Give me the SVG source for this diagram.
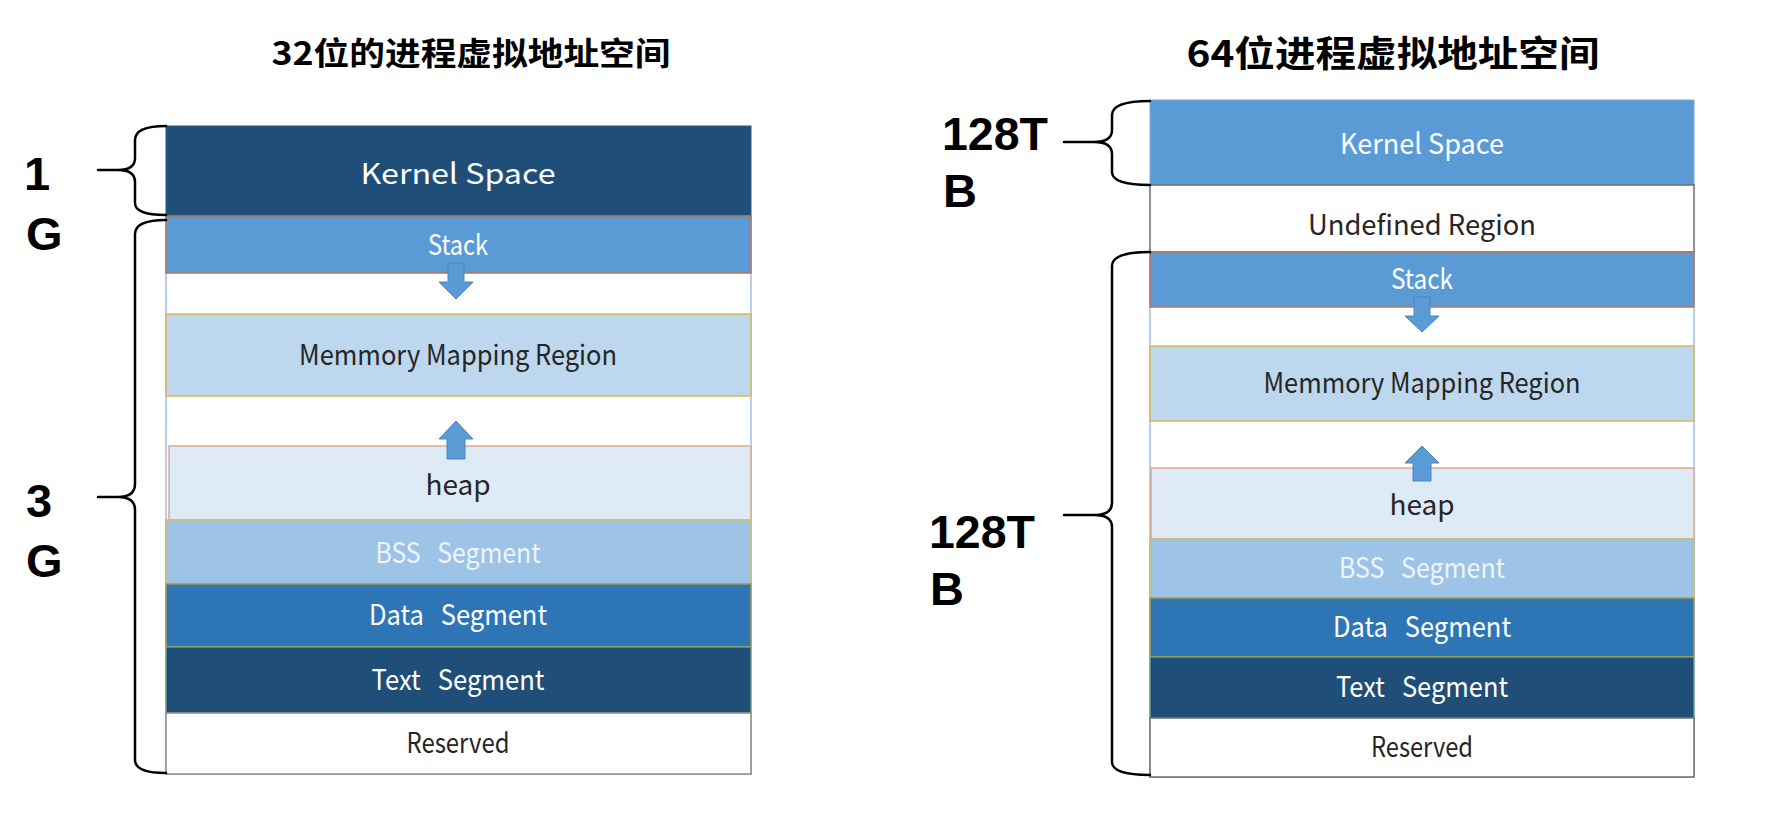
<svg xmlns="http://www.w3.org/2000/svg" width="1769" height="819" viewBox="0 0 1769 819">
<style>
.title{font-family:"Noto Sans CJK SC","Noto Sans",sans-serif;font-weight:700;fill:#000;text-anchor:middle}
.size{font-family:"Liberation Sans",Arial,sans-serif;font-weight:700;font-size:47px;fill:#000}
.lbl{font-family:"Noto Sans CJK SC","Noto Sans",sans-serif;font-size:28px;text-anchor:middle;white-space:pre}
.w{fill:#ffffff}
.d{fill:#262626}
.bss{fill:#eef4fb}
.brace{fill:none;stroke:#000;stroke-width:2.5;stroke-linejoin:round;stroke-linecap:round}
.arrow{fill:#5b9bd5;stroke:#4a86c0;stroke-width:1}
.col{fill:#ffffff;stroke:#9fbfe0;stroke-width:1.5}
</style>

<text class="title" x="471" y="65" font-size="32" textLength="399" lengthAdjust="spacingAndGlyphs">32位的进程虚拟地址空间</text>
<text class="title" x="1393" y="67" font-size="36" textLength="413" lengthAdjust="spacingAndGlyphs">64位进程虚拟地址空间</text>

<!-- Left column: 32-bit -->
<g id="left-column">
  <rect class="col" x="166" y="216" width="585" height="558"/>
  <g id="l-kernel">
    <rect x="166" y="126" width="585" height="90" fill="#1f4e79" stroke="#2a5a88" stroke-width="1"/>
    <text class="lbl w" x="458" y="184" font-size="34" textLength="195" lengthAdjust="spacingAndGlyphs">Kernel Space</text>
  </g>
  <g id="l-stack">
    <rect x="166" y="216" width="585" height="57" fill="#5b9bd5" stroke="#b8765a" stroke-width="1.5"/>
    <text class="lbl w" x="458" y="255" textLength="60" lengthAdjust="spacingAndGlyphs">Stack</text>
  </g>
  <g id="l-mmap">
    <rect x="166" y="314" width="585" height="82" fill="#bdd7ee" stroke="#d8b854" stroke-width="1.5"/>
    <text class="lbl d" x="458" y="365" textLength="318" lengthAdjust="spacingAndGlyphs">Memmory Mapping Region</text>
  </g>
  <g id="l-heap">
    <rect x="169" y="446" width="582" height="74" fill="#deebf7" stroke="#e2a888" stroke-width="1.5"/>
    <text class="lbl d" x="458" y="495">heap</text>
  </g>
  <g id="l-bss">
    <rect x="166" y="520" width="585" height="64" fill="#9dc3e6" stroke="#d0bc6a" stroke-width="1.5"/>
    <text class="lbl bss" x="458" y="563" xml:space="preserve" textLength="165" lengthAdjust="spacingAndGlyphs">BSS   Segment</text>
  </g>
  <g id="l-data">
    <rect x="166" y="584" width="585" height="63" fill="#2e75b6" stroke="#a89a44" stroke-width="1.5"/>
    <text class="lbl w" x="458" y="625" xml:space="preserve" textLength="178" lengthAdjust="spacingAndGlyphs">Data   Segment</text>
  </g>
  <g id="l-text">
    <rect x="166" y="647" width="585" height="66" fill="#1f4e79" stroke="#7fa87a" stroke-width="1.2"/>
    <text class="lbl w" x="458" y="690" xml:space="preserve" textLength="173" lengthAdjust="spacingAndGlyphs">Text   Segment</text>
  </g>
  <g id="l-reserved">
    <rect x="166" y="713" width="585" height="61" fill="#ffffff" stroke="#8c8c8c" stroke-width="1.5"/>
    <text class="lbl d" x="458" y="753" textLength="103" lengthAdjust="spacingAndGlyphs">Reserved</text>
  </g>
  <g id="l-size-1g">
    <text class="size" x="24" y="190">1</text>
    <text class="size" x="26" y="250">G</text>
  </g>
  <g id="l-size-3g">
    <text class="size" x="26" y="517">3</text>
    <text class="size" x="26" y="577">G</text>
  </g>
</g>

<!-- Right column: 64-bit -->
<g id="right-column">
  <rect class="col" x="1150" y="252" width="544" height="525"/>
  <g id="r-kernel">
    <rect x="1150" y="100" width="544" height="85" fill="#5b9bd5" stroke="#7fa9d6" stroke-width="1"/>
    <text class="lbl w" x="1422" y="154" font-size="32" textLength="164" lengthAdjust="spacingAndGlyphs">Kernel Space</text>
  </g>
  <g id="r-undefined">
    <rect x="1150" y="185" width="544" height="67" fill="#ffffff" stroke="#6b6b6b" stroke-width="1.5"/>
    <text class="lbl d" x="1422" y="235" textLength="228" lengthAdjust="spacingAndGlyphs">Undefined Region</text>
  </g>
  <g id="r-stack">
    <rect x="1150" y="252" width="544" height="55" fill="#5b9bd5" stroke="#b8765a" stroke-width="1.5"/>
    <text class="lbl w" x="1422" y="289" textLength="62" lengthAdjust="spacingAndGlyphs">Stack</text>
  </g>
  <g id="r-mmap">
    <rect x="1150" y="346" width="544" height="75" fill="#bdd7ee" stroke="#d8b854" stroke-width="1.5"/>
    <text class="lbl d" x="1422" y="393" textLength="317" lengthAdjust="spacingAndGlyphs">Memmory Mapping Region</text>
  </g>
  <g id="r-heap">
    <rect x="1151" y="468" width="543" height="71" fill="#deebf7" stroke="#e2a888" stroke-width="1.5"/>
    <text class="lbl d" x="1422" y="515">heap</text>
  </g>
  <g id="r-bss">
    <rect x="1150" y="539" width="544" height="59" fill="#9dc3e6" stroke="#d0bc6a" stroke-width="1.5"/>
    <text class="lbl bss" x="1422" y="578" xml:space="preserve" textLength="166" lengthAdjust="spacingAndGlyphs">BSS   Segment</text>
  </g>
  <g id="r-data">
    <rect x="1150" y="598" width="544" height="59" fill="#2e75b6" stroke="#a89a44" stroke-width="1.5"/>
    <text class="lbl w" x="1422" y="637" xml:space="preserve" textLength="178" lengthAdjust="spacingAndGlyphs">Data   Segment</text>
  </g>
  <g id="r-text">
    <rect x="1150" y="657" width="544" height="61" fill="#1f4e79" stroke="#7fa87a" stroke-width="1.2"/>
    <text class="lbl w" x="1422" y="697" xml:space="preserve" textLength="172" lengthAdjust="spacingAndGlyphs">Text   Segment</text>
  </g>
  <g id="r-reserved">
    <rect x="1150" y="718" width="544" height="59" fill="#ffffff" stroke="#6b6b6b" stroke-width="1.5"/>
    <text class="lbl d" x="1422" y="757" textLength="102" lengthAdjust="spacingAndGlyphs">Reserved</text>
  </g>
  <g id="r-size-kernel">
    <text class="size" x="942" y="150" textLength="106" lengthAdjust="spacingAndGlyphs">128T</text>
    <text class="size" x="943" y="207">B</text>
  </g>
  <g id="r-size-user">
    <text class="size" x="929" y="548" textLength="106" lengthAdjust="spacingAndGlyphs">128T</text>
    <text class="size" x="930" y="605">B</text>
  </g>
</g>

<!-- Connectors: braces and growth arrows -->
<g id="connectors">
  <path class="brace" d="M166,126 Q135,126 135,140 L135,158 Q135,170 118,170 L98,170 M118,170 Q135,170 135,182 L135,203 Q135,215 166,215"/>
  <path class="brace" d="M166,220 Q135,220 135,234 L135,484 Q135,497 118,497 L98,497 M118,497 Q135,497 135,510 L135,760 Q135,773 166,773"/>
  <path class="brace" d="M1150,101 Q1112,101 1112,115 L1112,130 Q1112,142 1094,142 L1064,142 M1094,142 Q1112,142 1112,154 L1112,172 Q1112,185 1150,185"/>
  <path class="brace" d="M1150,252 Q1112,252 1112,266 L1112,503 Q1112,515 1094,515 L1064,515 M1094,515 Q1112,515 1112,527 L1112,762 Q1112,775 1150,775"/>
  <polygon class="arrow" points="448,263 464,263 464,282 473,282 456,299 439,282 448,282"/>
  <polygon class="arrow" points="456,421 473,439 465,439 465,459 447,459 447,439 439,439"/>
  <polygon class="arrow" points="1414,297 1430,297 1430,316 1439,316 1422,332 1405,316 1414,316"/>
  <polygon class="arrow" points="1422,446 1439,463 1431,463 1431,481 1413,481 1413,463 1405,463"/>
</g>
</svg>
